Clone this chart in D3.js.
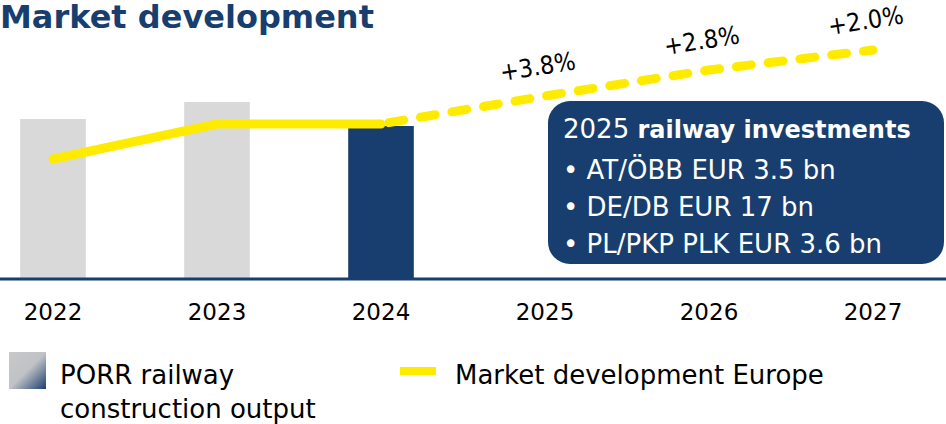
<!DOCTYPE html>
<html><head><meta charset="utf-8">
<script src="https://cdnjs.cloudflare.com/ajax/libs/d3/7.8.5/d3.min.js"></script>
<style>body{margin:0;background:#fff;}svg{display:block;}</style>
</head><body>
<script>
const years = ["2022","2023","2024","2025","2026","2027"];
const barYears = ["2022","2023","2024"];
const barValues = [160, 177, 153];
const lineValues = [120, 155, 155, 183, 209, 229];
const growthLabels = ["", "", "", "+3.8%", "+2.8%", "+2.0%"];
const boxTitle = ["2025 ", "railway investments"];
const boxItems = ["AT/ÖBB EUR 3.5 bn", "DE/DB EUR 17 bn", "PL/PKP PLK EUR 3.6 bn"];

const W = 946, H = 424;
const navy = "#173e6e", grey = "#d9d9d9", yellow = "#ffeb00";
const font = "DejaVu Sans, Verdana, sans-serif";

const svg = d3.select("body").append("svg").attr("width", W).attr("height", H);

const defs = svg.append("defs");
const g1 = defs.append("linearGradient").attr("id","lg").attr("x1","0").attr("y1","0").attr("x2","1").attr("y2","1");
g1.append("stop").attr("offset","0").attr("stop-color","#c8c8c8");
g1.append("stop").attr("offset","0.5").attr("stop-color","#c0c2c6");
g1.append("stop").attr("offset","1").attr("stop-color","#1a3f70");

const x = d3.scaleBand().domain(years).range([-29, 955]).paddingInner(0.6).paddingOuter(0.3);
const y = d3.scaleLinear().domain([0, 250]).range([279, 29]);
const cx = d => x(d) + x.bandwidth()/2;

// Title
svg.append("text").attr("x", 0).attr("y", 28).attr("font-family", font).attr("font-weight","bold")
  .attr("font-size", 32).attr("fill", navy).text("Market development");

// bars
svg.selectAll("rect.bar").data(barYears.map((d,i)=>({y:d,v:barValues[i]}))).join("rect")
  .attr("class","bar").attr("x", d=>x(d.y)).attr("width", x.bandwidth())
  .attr("y", d=>y(d.v)).attr("height", d=>y(0)-y(d.v))
  .attr("fill", (d,i)=> i===2 ? navy : grey);

// axis
const axis = svg.append("g").attr("transform", `translate(0,${y(0)})`)
  .call(d3.axisBottom(x).tickSize(0).tickPadding(25));
axis.select(".domain").attr("d", `M0,0H${W}`).attr("stroke", navy).attr("stroke-width", 3);
axis.selectAll("text").attr("font-family", font).attr("font-size", 23).attr("fill", "#000");

// line
const pts = years.map((d,i)=>[cx(d), y(lineValues[i])]);
const lineGen = d3.line();
svg.append("path").attr("d", lineGen(pts.slice(0,3))).attr("fill","none")
  .attr("stroke", yellow).attr("stroke-width", 9).attr("stroke-linecap","round").attr("stroke-linejoin","round");
svg.append("path").attr("d", lineGen(pts.slice(2))).attr("fill","none")
  .attr("stroke", yellow).attr("stroke-width", 9).attr("stroke-linecap","round")
  .attr("stroke-dasharray", "15 17").attr("stroke-dashoffset", -8);

// growth labels
years.forEach((d,i)=>{
  if(!growthLabels[i]) return;
  const px = cx(d) - 6, py = y(lineValues[i]) - 21;
  svg.append("text").attr("transform", `translate(${px},${py}) rotate(-9)`)
    .attr("text-anchor","middle").attr("font-family", "DejaVu Sans Condensed, DejaVu Sans, sans-serif")
    .attr("font-stretch","condensed").attr("font-size", 25).attr("fill","#000")
    .text(growthLabels[i]);
});

// box
svg.append("rect").attr("x", 548).attr("y", 101).attr("width", 396).attr("height", 163)
  .attr("rx", 22).attr("fill", navy);
const t = svg.append("text").attr("x", 563).attr("y", 138).attr("font-family", font)
  .attr("font-size", 26).attr("fill", "#fff");
t.append("tspan").text(boxTitle[0]);
t.append("tspan").attr("font-weight","bold").attr("font-size", 24).text(boxTitle[1]);
boxItems.forEach((s,i)=>{
  svg.append("text").attr("x", 563).attr("y", 179 + i*37).attr("font-family", font)
    .attr("font-size", 26).attr("fill","#fff").text("\u2022 " + s);
});

// legend
svg.append("rect").attr("x", 9).attr("y", 352).attr("width", 37).attr("height", 37).attr("fill","url(#lg)");
svg.append("text").attr("x", 60).attr("y", 384).attr("font-family", font).attr("font-size", 26).attr("fill","#000").text("PORR railway");
svg.append("text").attr("x", 60).attr("y", 418).attr("font-family", font).attr("font-size", 26).attr("fill","#000").text("construction output");
svg.append("rect").attr("x", 400).attr("y", 367).attr("width", 36).attr("height", 8).attr("fill", yellow);
svg.append("text").attr("x", 455).attr("y", 384).attr("font-family", font).attr("font-size", 26).attr("fill","#000").text("Market development Europe");
</script>
</body></html>
